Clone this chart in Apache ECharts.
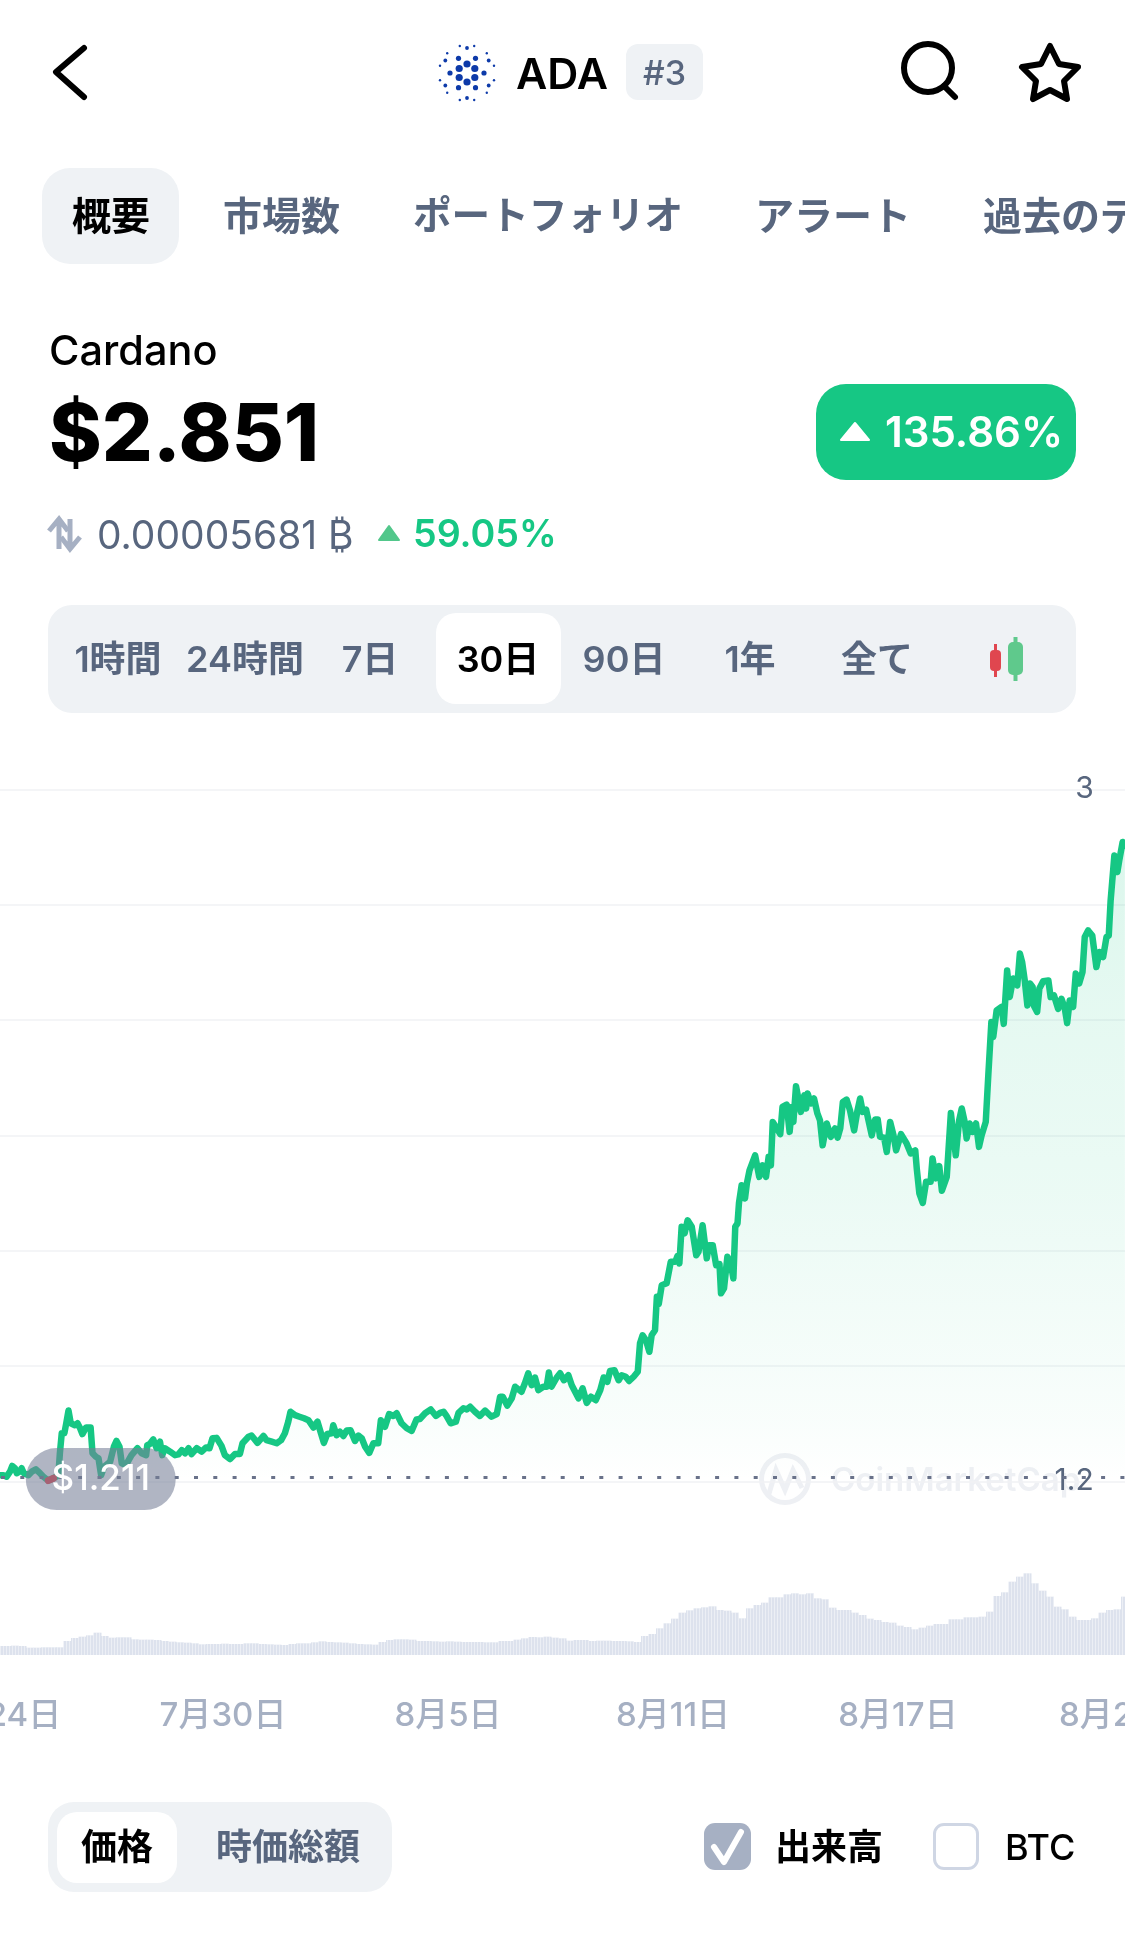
<!DOCTYPE html>
<html lang="ja"><head><meta charset="utf-8">
<script src="https://cdn.jsdelivr.net/npm/echarts@6/dist/echarts.min.js"></script>
<style>
html,body{margin:0;padding:0;background:#fff;width:1125px;height:1955px;overflow:hidden}
body{position:relative;font-family:Inter,"Noto Sans CJK JP",sans-serif;color:#000}
#chart{position:absolute;left:0;top:0;width:1125px;height:1955px}
#ui{position:absolute;left:0;top:0;width:1125px;height:1955px;overflow:hidden;pointer-events:none}
.box{position:absolute}
.t{position:absolute;white-space:nowrap;transform:translate(-50%,-50%);line-height:1}
.l{position:absolute;white-space:nowrap;transform:translateY(-50%);line-height:1}
.g{color:#58667e}
svg{position:absolute;left:0;top:0}
</style></head><body>
<div id="chart"></div>
<div id="ui">
  <div class="box" style="left:626px;top:44px;width:77px;height:56px;background:#eff2f5;border-radius:12px"></div>
  <div class="box" style="left:42px;top:168px;width:137px;height:96px;background:#eff2f5;border-radius:28px"></div>
  <div class="box" style="left:816px;top:384px;width:260px;height:96px;background:#16c784;border-radius:30px"></div>
  <div class="box" style="left:48px;top:605px;width:1028px;height:108px;background:#eff2f5;border-radius:24px"></div>
  <div class="box" style="left:436px;top:613px;width:125px;height:91px;background:#fff;border-radius:20px"></div>
  <div class="box" style="left:48px;top:1802px;width:344px;height:90px;background:#eff2f5;border-radius:26px"></div>
  <div class="box" style="left:57px;top:1812px;width:120px;height:71px;background:#fff;border-radius:20px"></div>
  <div class="box" style="left:704px;top:1823px;width:47px;height:47px;background:#a6b0c3;border-radius:11px"></div>
  <div class="box" style="left:933px;top:1823px;width:40px;height:41px;border:3px solid #cfd6e4;border-radius:11px"></div>

  <svg width="1125" height="1955" id="icons">
    <polyline points="84,48 56,72 84,97" fill="none" stroke="#000" stroke-width="6" stroke-linecap="round" stroke-linejoin="round"/>
    <circle cx="928" cy="68" r="24" fill="none" stroke="#000" stroke-width="6"/>
    <line x1="944" y1="86" x2="955" y2="97" stroke="#000" stroke-width="6" stroke-linecap="round"/>
    <polygon points="1050,46 1059,64 1078,67 1064,81 1067,99 1050,90 1033,99 1036,81 1022,67 1041,64" fill="none" stroke="#000" stroke-width="6" stroke-linejoin="round"/>
    <polygon points="841,440 855,423 869,440" fill="#fff" stroke="#fff" stroke-width="2" stroke-linejoin="round"/>
    <path d="M59 549V522M49 531L59 519L68 531" fill="none" stroke="#a6b0c3" stroke-width="5"/>
    <path d="M70 519V546M61 537L70 549L80 537" fill="none" stroke="#a6b0c3" stroke-width="5"/>
    <polygon points="379,540 389,526 399,540" fill="#52c78b" stroke="#52c78b" stroke-width="2" stroke-linejoin="round"/>
    <line x1="995.5" y1="644" x2="995.5" y2="677" stroke="#e0464f" stroke-width="3"/>
    <rect x="990" y="650" width="11" height="21" rx="4" fill="#e0464f"/>
    <line x1="1015.5" y1="637" x2="1015.5" y2="681" stroke="#5fc98c" stroke-width="4"/>
    <rect x="1008" y="642" width="15" height="33" rx="5" fill="#5fc98c"/>
    <polyline points="714,1847 724,1862 741,1832" fill="none" stroke="#fff" stroke-width="6" stroke-linecap="round" stroke-linejoin="round"/>
  </svg>

  <div class="l" style="left:516px;top:73px;font-size:43px;font-weight:600">ADA</div>
  <div class="t g" style="left:664.5px;top:73px;font-size:34px;font-weight:500">#3</div>

  <div class="t" style="left:111px;top:215px;font-size:39px;font-weight:700">概要</div>
  <div class="l g" style="left:223px;top:215px;font-size:39px;font-weight:700">市場数</div>
  <div class="l g" style="left:413px;top:215px;font-size:38.6px;font-weight:700">ポートフォリオ</div>
  <div class="l g" style="left:755px;top:215px;font-size:39px;font-weight:700">アラート</div>
  <div class="l g" style="left:983px;top:215px;font-size:39px;font-weight:700">過去のデータ</div>

  <div class="l" style="left:49px;top:351px;font-size:41.5px;font-weight:500">Cardano</div>
  <div class="l" style="left:49px;top:432px;font-size:80px;font-weight:800">$2.851</div>
  <div class="l" style="left:885px;top:432px;font-size:42px;font-weight:600;color:#fff">135.86%</div>
  <div class="l g" style="left:97px;top:534px;font-size:39px;font-weight:400">0.00005681 ₿</div>
  <div class="l" style="left:413px;top:534px;font-size:37.6px;font-weight:600;color:#16c784">59.05%</div>

  <div class="t g" style="left:118px;top:659px;font-size:36px;font-weight:600">1時間</div>
  <div class="t g" style="left:245px;top:659px;font-size:36px;font-weight:600">24時間</div>
  <div class="t g" style="left:370px;top:659px;font-size:36px;font-weight:600">7日</div>
  <div class="t" style="left:498px;top:659px;font-size:36px;font-weight:600">30日</div>
  <div class="t g" style="left:624px;top:659px;font-size:36px;font-weight:600">90日</div>
  <div class="t g" style="left:750px;top:659px;font-size:36px;font-weight:600">1年</div>
  <div class="t g" style="left:877px;top:659px;font-size:36px;font-weight:600">全て</div>

  <div class="t" style="left:117px;top:1847px;font-size:36px;font-weight:700">価格</div>
  <div class="t g" style="left:288px;top:1847px;font-size:36px;font-weight:700">時価総額</div>
  <div class="l" style="left:775px;top:1847px;font-size:36px;font-weight:600">出来高</div>
  <div class="l" style="left:1005px;top:1847px;font-size:36px;font-weight:500">BTC</div>
</div>

<script>
var xTickLabels = ['7月24日','7月30日','8月5日','8月11日','8月17日','8月23日'];
var yTickLabels = ['1.2','3'];
var baselinePrice = 1.211;
var baselineLabel = '$1.211';

var priceDays = [0.05,0.14,0.23,0.32,0.38,0.45,0.50,0.57,0.63,0.69,0.81,0.90,1.01,1.12,1.21,1.34,1.48,1.61,1.65,1.70,1.77,1.82,1.88,1.94,2.05,2.12,2.19,2.25,2.35,2.47,2.52,2.61,2.68,2.75,2.83,2.99,3.09,3.16,3.24,3.30,3.41,3.56,3.72,3.83,3.95,3.98,4.05,4.14,4.23,4.32,4.38,4.45,4.59,4.72,4.81,4.90,4.99,5.08,5.16,5.30,5.43,5.55,5.64,5.72,5.83,5.96,6.05,6.19,6.32,6.45,6.52,6.68,6.76,6.92,7.08,7.16,7.30,7.43,7.55,7.65,7.74,7.80,7.92,8.04,8.16,8.28,8.41,8.52,8.60,8.69,8.78,8.90,8.94,9.03,9.12,9.21,9.30,9.40,9.52,9.61,9.70,9.79,9.90,10.01,10.14,10.21,10.32,10.43,10.54,10.63,10.76,10.90,11.03,11.16,11.25,11.39,11.54,11.68,11.79,11.88,11.96,12.07,12.21,12.28,12.41,12.50,12.59,12.72,12.85,12.99,13.16,13.30,13.39,13.46,13.58,13.70,13.79,13.96,14.05,14.14,14.23,14.32,14.41,14.54,14.63,14.69,14.76,14.90,14.99,15.09,15.21,15.30,15.48,15.59,15.70,15.81,15.94,16.06,16.15,16.25,16.32,16.44,16.55,16.63,16.74,16.83,16.95,17.06,17.12,17.19,17.28,17.37,17.43,17.52,17.57,17.62,17.70,17.83,17.94,18.06,18.12,18.17,18.23,18.31,18.39,18.50,18.62,18.68,18.79,18.90,18.96,19.06,19.15,19.24,19.28,19.36,19.45,19.54,19.61,19.66,19.72,19.76,19.83,19.92,19.97,20.04,20.19,20.30,20.39,20.48,20.55,20.61,20.66,20.77,20.86,20.92,21.03,21.11,21.17,21.21,21.28,21.41,21.50,21.55,21.59,21.68,21.76,21.85,21.92,21.99,22.10,22.21,22.32,22.39,22.46,22.53,22.63,22.72,22.83,22.92,22.99,23.06,23.15,23.30,23.39,23.46,23.52,23.63,23.70,23.79,23.88,23.95,24.08,24.23,24.34,24.46,24.50,24.57,24.66,24.75,24.87,24.92,25.01,25.10,25.17,25.30,25.41,25.54,25.63,25.70,25.77,25.83,25.91,25.99,26.08,26.16,26.23,26.34,26.41,26.49,26.54,26.63,26.76,26.82,26.91,26.98,27.07,27.18,27.25,27.31,27.38,27.45,27.52,27.59,27.62,27.71,27.77,27.87,28.01,28.07,28.16,28.27,28.36,28.45,28.51,28.58,28.67,28.74,28.83,28.92,28.98,29.07,29.18,29.29,29.37,29.47,29.56,29.62,29.67,29.77,29.85,29.90,29.99,30.05];

var priceValues = [1.216,1.216,1.212,1.225,1.240,1.234,1.221,1.225,1.234,1.221,1.216,1.225,1.231,1.221,1.212,1.202,1.208,1.216,1.273,1.325,1.325,1.351,1.384,1.351,1.346,1.351,1.338,1.323,1.340,1.340,1.273,1.264,1.260,1.216,1.238,1.251,1.290,1.305,1.290,1.247,1.242,1.268,1.286,1.273,1.268,1.294,1.297,1.309,1.286,1.303,1.268,1.286,1.277,1.268,1.270,1.281,1.273,1.286,1.271,1.286,1.277,1.288,1.286,1.312,1.313,1.292,1.268,1.258,1.271,1.271,1.299,1.316,1.319,1.300,1.318,1.307,1.303,1.299,1.307,1.325,1.355,1.381,1.372,1.368,1.364,1.359,1.340,1.355,1.329,1.300,1.323,1.325,1.346,1.320,1.329,1.318,1.332,1.333,1.305,1.319,1.312,1.290,1.274,1.299,1.299,1.359,1.342,1.375,1.370,1.377,1.351,1.338,1.331,1.361,1.362,1.377,1.387,1.370,1.378,1.381,1.370,1.351,1.355,1.378,1.390,1.387,1.394,1.381,1.370,1.384,1.368,1.375,1.420,1.420,1.397,1.416,1.446,1.433,1.455,1.481,1.450,1.470,1.437,1.446,1.446,1.483,1.446,1.470,1.481,1.463,1.476,1.450,1.416,1.442,1.404,1.420,1.411,1.437,1.470,1.459,1.487,1.489,1.463,1.476,1.472,1.461,1.472,1.485,1.559,1.580,1.567,1.537,1.580,1.593,1.680,1.661,1.710,1.715,1.771,1.771,1.786,1.767,1.862,1.845,1.879,1.862,1.788,1.797,1.866,1.780,1.814,1.814,1.762,1.765,1.689,1.702,1.784,1.767,1.728,1.862,1.871,1.925,1.970,1.936,1.975,2.009,2.048,1.992,2.022,1.992,2.044,2.022,2.135,2.118,2.103,2.174,2.180,2.109,2.174,2.135,2.228,2.161,2.204,2.170,2.209,2.183,2.196,2.157,2.139,2.074,2.131,2.096,2.118,2.094,2.118,2.187,2.193,2.165,2.113,2.165,2.196,2.161,2.167,2.100,2.141,2.141,2.096,2.094,2.057,2.135,2.100,2.061,2.103,2.079,2.053,2.061,2.014,1.949,1.924,1.979,1.979,2.040,1.988,2.020,1.956,1.992,2.158,2.048,2.139,2.170,2.139,2.092,2.131,2.109,2.131,2.070,2.100,2.135,2.260,2.395,2.356,2.425,2.434,2.390,2.529,2.460,2.508,2.490,2.573,2.551,2.503,2.438,2.495,2.486,2.438,2.421,2.482,2.501,2.503,2.460,2.464,2.429,2.455,2.429,2.392,2.451,2.434,2.521,2.495,2.525,2.616,2.633,2.620,2.538,2.577,2.564,2.616,2.620,2.711,2.828,2.785,2.815,2.863,2.854];

var volumeDayStart = 0.053, volumeDayStep = 0.2;
var volumeValues = [1.08,1.08,1.12,1.08,0.88,0.88,0.92,0.92,0.92,1.68,2.04,2.2,2.36,2.68,2.28,2.08,2.12,2.12,1.88,1.84,1.84,1.8,1.68,1.6,1.52,1.48,1.4,1.28,1.32,1.32,1.36,1.32,1.32,1.4,1.4,1.32,1.28,1.24,1.2,1.32,1.4,1.4,1.52,1.64,1.56,1.52,1.48,1.4,1.32,1.28,1.24,1.56,1.8,1.88,
1.88,1.84,1.68,1.68,1.64,1.6,1.64,1.6,1.56,1.56,1.56,1.52,1.52,1.68,1.68,1.84,2.0,2.16,2.12,2.2,2.08,2.0,1.72,1.8,1.8,1.68,1.72,1.72,1.68,1.68,1.64,1.56,2.28,2.52,3.2,3.8,4.36,5.08,5.36,5.6,5.72,5.84,5.4,5.32,5.08,4.4,5.6,6.0,6.28,6.92,6.92,7.28,7.4,
7.28,7.4,6.8,6.68,5.68,5.4,5.4,5.08,4.8,4.36,4.2,3.96,3.88,3.52,3.36,3.08,3.28,3.52,3.72,3.72,4.28,4.28,4.52,4.52,4.6,5.2,7.08,7.52,8.8,9.4,9.8,8.6,7.72,7.0,5.8,5.48,4.6,4.2,4.2,4.4,5.08,5.4,5.48,7.0,7.4];

var GREEN = '#16c784', RED = '#ea3943';

// ADA logo dots
(function(){
  var s='',rings=[[9,6,3.6,0],[17,6,2.6,30],[25,6,1.9,0],[28,12,1.2,15]];
  rings.forEach(function(r){for(var i=0;i<r[1];i++){var a=(r[3]+i*360/r[1])*Math.PI/180;
    s+='<circle cx="'+(467+r[0]*Math.sin(a)).toFixed(1)+'" cy="'+(73-r[0]*Math.cos(a)).toFixed(1)+'" r="'+r[2]+'" fill="#0d3aa9"/>';}});
  document.getElementById('icons').insertAdjacentHTML('beforeend',s);
})();

var pricePoints = priceDays.map(function(d,i){return [d,priceValues[i]];});
var belowPoints = pricePoints.filter(function(p){return p[1]<baselinePrice;});

var font = 'Inter, "Noto Sans CJK JP", sans-serif';
var chart = echarts.init(document.getElementById('chart'), null, {renderer:'canvas', width:1125, height:1955});
chart.setOption({
  animation:false,
  backgroundColor:'#fff',
  textStyle:{fontFamily:font},
  grid:[
    {left:-2, top:789.4, width:1128.75, height:691.9, outerBoundsMode:'none', containLabel:false},
    {left:-2, top:1570, width:1128.75, height:85, outerBoundsMode:'none', containLabel:false}
  ],
  xAxis:[
    {gridIndex:0,type:'value',min:0,max:30.1,interval:6,show:false,splitLine:{show:false}},
    {gridIndex:1,type:'value',min:0,max:30.1,interval:6,
     axisLine:{show:false},axisTick:{show:false},splitLine:{show:false},
     axisLabel:{margin:45,fontSize:33,fontWeight:500,color:'#a6b0c3',fontFamily:font,
       showMinLabel:true,hideOverlap:false,
       formatter:function(v){return v%6===0&&xTickLabels[v/6]?xTickLabels[v/6]:'';}}}
  ],
  yAxis:[
    {gridIndex:0,type:'value',min:1.2,max:3,interval:0.3,position:'right',
     axisLine:{show:false},axisTick:{show:false},
     splitLine:{lineStyle:{color:'#f0f2f5',width:1.5}},
     axisLabel:{inside:true,margin:33,fontSize:30,color:'#58667e',fontFamily:font,
       formatter:function(v){var n=Number(v).toFixed(1).replace(/\.0$/,'');return yTickLabels.indexOf(n)>=0?n:'';}}},
    {gridIndex:1,type:'value',min:0,max:10.2,show:false,splitLine:{show:false}}
  ],
  graphic:[
    {type:'group',silent:true,z:1,children:[
      {type:'ring',shape:{cx:785,cy:1479,r:26,r0:21},style:{fill:'#eef0f4'}},
      {type:'polyline',shape:{points:[[768,1497],[776,1470],[785,1490],[793,1470],[802,1488]]},style:{stroke:'#eef0f4',lineWidth:5,fill:null}},
      {type:'text',style:{x:831,y:1481,text:'CoinMarketCap',fontSize:33,fontWeight:600,fill:'#eef0f4',fontFamily:font,verticalAlign:'middle'}}
    ]}
  ],
  series:[
    {name:'価格',type:'line',xAxisIndex:0,yAxisIndex:0,showSymbol:false,z:3,
     data:pricePoints,
     itemStyle:{color:GREEN},
     lineStyle:{color:GREEN,width:6.5,join:'round',cap:'round'},
     areaStyle:{origin:'start',color:new echarts.graphic.LinearGradient(0,0,0,1,[
       {offset:0,color:'rgba(22,199,132,0.22)'},{offset:0.25,color:'rgba(22,199,132,0.16)'},
       {offset:0.55,color:'rgba(22,199,132,0.12)'},{offset:0.9,color:'rgba(22,199,132,0.04)'},
       {offset:1,color:'rgba(22,199,132,0)'}])}},
    {name:'下落',type:'line',xAxisIndex:0,yAxisIndex:0,showSymbol:false,z:4,
     data:belowPoints,
     itemStyle:{color:RED},
     lineStyle:{color:RED,width:7,join:'round',cap:'round'}},
    {name:'始値',type:'line',xAxisIndex:0,yAxisIndex:0,showSymbol:false,z:5,
     data:[[priceDays[0],baselinePrice]],
     lineStyle:{width:0},itemStyle:{opacity:0},
     markLine:{silent:true,symbol:'none',label:{show:false},animation:false,
       lineStyle:{type:[4,15.3],dashOffset:16.3,width:3,color:'#69728a',cap:'butt'},
       data:[{yAxis:baselinePrice}]},
     markPoint:{silent:true,symbol:'circle',symbolSize:1,animation:false,
       itemStyle:{color:'rgba(0,0,0,0)'},
       data:[{coord:[2.74,baselinePrice]}],
       label:{show:true,position:'inside',offset:[0,2],formatter:baselineLabel,
         width:150,height:56,lineHeight:56,padding:[6,0,0,0],align:'center',verticalAlign:'middle',
         backgroundColor:'rgba(118,127,151,0.575)',borderRadius:31,
         color:'#fff',fontSize:35,fontWeight:500,fontFamily:font}}},
    {name:'出来高',type:'bar',xAxisIndex:1,yAxisIndex:1,barWidth:8,z:2,
     data:volumeValues.map(function(v,i){return [volumeDayStart+i*volumeDayStep,v];}),
     itemStyle:{color:'#dde2ed',
       decal:{symbol:'rect',symbolSize:1,color:'rgba(255,255,255,0.45)',dashArrayX:[1,2],dashArrayY:[4,0],rotation:0}}}
  ]
});
</script>
</body></html>
